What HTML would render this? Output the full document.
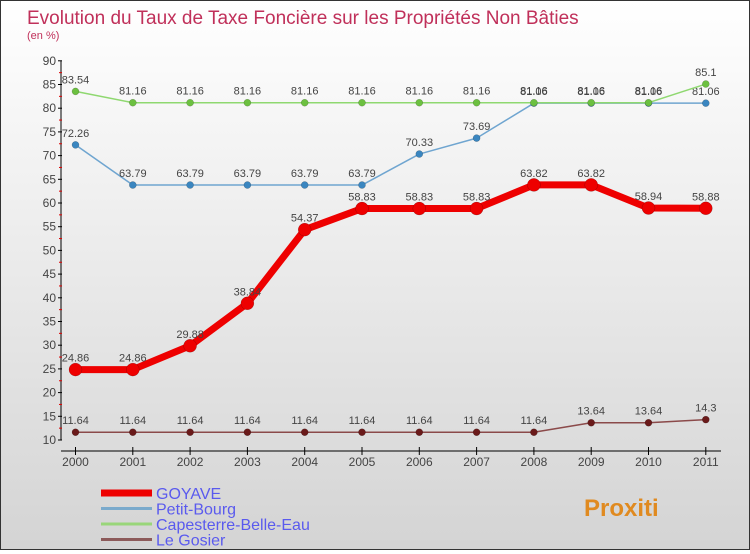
<!DOCTYPE html>
<html><head><meta charset="utf-8"><style>
body{margin:0}
#c{width:748px;height:548px;border:1px solid #333;background:linear-gradient(#fff,#d4d4d4);position:relative;font-family:"Liberation Sans",sans-serif}
</style></head><body>
<div id="c">
<svg id="s" width="748" height="548"></svg>
</div>
<script>
const years=[2000,2001,2002,2003,2004,2005,2006,2007,2008,2009,2010,2011];
const goyave=[24.86,24.86,29.88,38.84,54.37,58.83,58.83,58.83,63.82,63.82,58.94,58.88];
const petit=[72.26,63.79,63.79,63.79,63.79,63.79,70.33,73.69,81.06,81.06,81.06,81.06];
const cape=[83.54,81.16,81.16,81.16,81.16,81.16,81.16,81.16,81.16,81.16,81.16,85.1];
const gosier=[11.64,11.64,11.64,11.64,11.64,11.64,11.64,11.64,11.64,13.64,13.64,14.3];
const yTicks=[10,15,20,25,30,35,40,45,50,55,60,65,70,75,80,85,90];
const NS="http://www.w3.org/2000/svg",s=document.getElementById('s');
const X=i=>74.5+i*57.3, Y=v=>439-(v-10)*4.74;
function el(t,a,p){const e=document.createElementNS(NS,t);for(const k in a)e.setAttribute(k,a[k]);(p||s).appendChild(e);return e;}
function tx(x,y,str,a){const e=el('text',Object.assign({x:x,y:y,'font-size':11,fill:'#444'},a||{}));e.textContent=str;return e;}
let t=tx(26,23,'Evolution du Taux de Taxe Foncière sur les Propriétés Non Bâties',{'font-size':19,fill:'#c0305a'});

t=tx(26,38,'(en %)',{'font-size':11,fill:'#c0305a'});

let ax=el('line',{x1:60,y1:Y(90),x2:60,y2:Y(10),stroke:'#000'});

yTicks.forEach(v=>{el('line',{x1:57,x2:61,y1:Y(v),y2:Y(v),stroke:'#000'});
 el('line',{x1:58,x2:61,y1:Y(v+2.5),y2:Y(v+2.5),stroke:v<90?'#d00':'none'});
 const l=tx(55,Y(v)+4,String(v),{'text-anchor':'end','font-size':12});
 });
ax=el('line',{x1:60,y1:450,x2:720,y2:450,stroke:'#000'});

years.forEach((yr,i)=>{el('line',{x1:X(i),x2:X(i),y1:446,y2:454,stroke:'#000'});
 const l=tx(X(i),465,String(yr),{'text-anchor':'middle','font-size':12});
 });
function series(d,name,col,w,r,dotFill){
 const g=el('g',{});
 el('polyline',{points:d.map((v,i)=>X(i)+','+Y(v)).join(' '),fill:'none',stroke:col,'stroke-width':w,'stroke-linejoin':'round'},g);
 d.forEach((v,i)=>{const c=el('circle',{cx:X(i),cy:Y(v),r:r,fill:dotFill,stroke:'rgba(0,0,0,0.3)','stroke-width':0.5},g);
  
  const l=tx(X(i),Y(v)-8,String(v).replace('.','.'),{'text-anchor':'middle','font-size':11},g);
  });
}
series(gosier,'le-gosier','#8b4a4a',1.5,3.5,'#6a1a1a');
series(petit,'petit-bourg','#6fa5d0',1.5,3.5,'#3a86c0');
series(cape,'capesterre','#8fd870',1.5,3.5,'#6cc040');
series(goyave,'goyave','#ee0000',7,6.5,'#ee0000');
const leg=[['GOYAVE','#ee0000',7],['Petit-Bourg','#7aaacc',3],['Capesterre-Belle-Eau','#99d67a',3],['Le Gosier','#8c5a5a',3]];
leg.forEach((L,i)=>{const y=492+i*15.5;const g=el('g',{});
 
 el('line',{x1:100,x2:151,y1:y,y2:y,stroke:L[1],'stroke-width':L[2]},g);
 tx(155,y+6,L[0],{'font-size':16,fill:'#5a5aee'},g);});
t=tx(583,515,'Proxiti',{'font-size':24,'font-weight':'bold',fill:'#e08a20'});

</script>
</body></html>
